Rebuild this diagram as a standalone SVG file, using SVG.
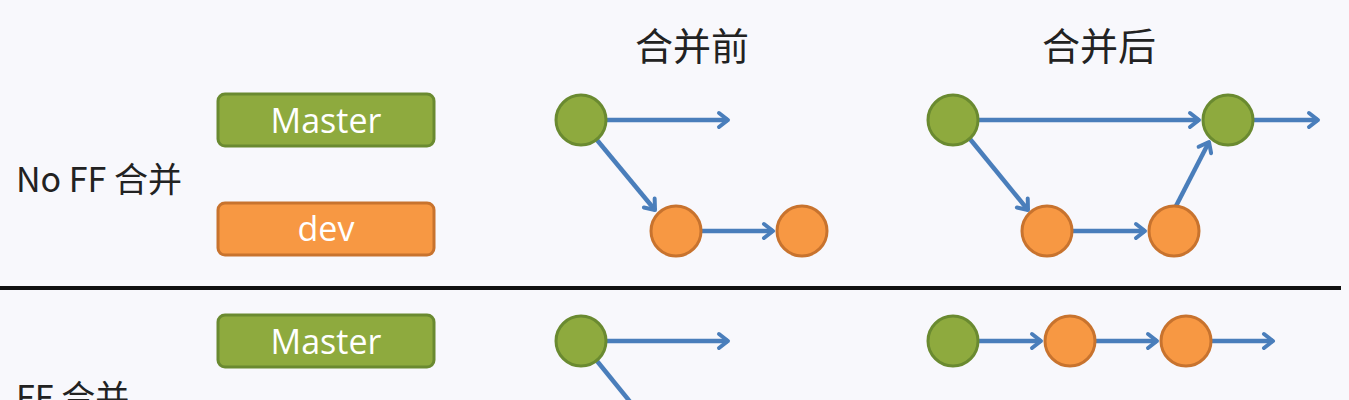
<svg xmlns="http://www.w3.org/2000/svg" width="1349" height="400" viewBox="0 0 1349 400">
<defs>
<marker id="ah" viewBox="0 0 14 16" refX="12" refY="8" markerWidth="14" markerHeight="16" markerUnits="userSpaceOnUse" orient="auto" overflow="visible">
<polyline points="3,1 12,8 3,15" fill="none" stroke="#4a7ebb" stroke-width="4" stroke-linecap="round" stroke-linejoin="round"/>
</marker>
</defs>
<style>
.bg{fill:#f8f8fc}
.g{fill:#8eaa3e;stroke:#6a8a30;stroke-width:3}
.o{fill:#f79843;stroke:#c8732e;stroke-width:3}
.lbl{font-family:"Open Sans","Liberation Sans",sans-serif;font-size:34px;fill:#ffffff;text-anchor:middle}
.cj{font-family:"Noto Sans CJK SC","Liberation Sans",sans-serif;fill:#222222}
.c line{stroke:#4a7ebb;stroke-width:4.5;marker-end:url(#ah)}
</style>
<rect class="bg" x="0" y="0" width="1349" height="400"/>
<g id="titles">
<text class="cj" x="692" y="60" font-size="38" text-anchor="middle">合并前</text>
<text class="cj" x="1099" y="60" font-size="38" text-anchor="middle">合并后</text>
<text class="cj" x="16" y="192" font-size="34">No FF 合并</text>
<text class="cj" x="16" y="410" font-size="34">FF 合并</text>
</g>
<line id="divider" x1="0" y1="288" x2="1341" y2="288" stroke="#111111" stroke-width="4"/>
<g id="master1"><rect class="g" x="218" y="94" width="216" height="52" rx="7"/><text class="lbl" x="326" y="133">Master</text></g>
<g id="dev1"><rect class="o" x="218" y="203" width="216" height="52" rx="7"/><text class="lbl" x="326" y="241">dev</text></g>
<g id="master2"><rect class="g" x="218" y="315" width="216" height="52" rx="7"/><text class="lbl" x="326" y="354">Master</text></g>
<g class="c" id="connectors">
<line x1="606" y1="120" x2="728" y2="120"/>
<line x1="597" y1="140" x2="655" y2="210"/>
<line x1="702" y1="231" x2="773" y2="231"/>
<line x1="979" y1="120" x2="1199" y2="120"/>
<line x1="1254" y1="120" x2="1318" y2="120"/>
<line x1="970" y1="139" x2="1028" y2="210"/>
<line x1="1073" y1="231" x2="1145" y2="231"/>
<line x1="1176" y1="206" x2="1209" y2="142"/>
<line x1="606" y1="341" x2="728" y2="341"/>
<line x1="597" y1="361" x2="640" y2="414" style="marker-end:none"/>
<line x1="979" y1="341" x2="1041" y2="341"/>
<line x1="1096" y1="341" x2="1157" y2="341"/>
<line x1="1212" y1="341" x2="1273" y2="341"/>
</g>
<g id="n1"><circle class="g" cx="581" cy="120" r="25"/></g>
<g id="n2"><circle class="o" cx="676" cy="231" r="25"/></g>
<g id="n3"><circle class="o" cx="802" cy="231" r="25"/></g>
<g id="n4"><circle class="g" cx="953" cy="120" r="25"/></g>
<g id="n5"><circle class="g" cx="1228" cy="120" r="25"/></g>
<g id="n6"><circle class="o" cx="1047" cy="231" r="25"/></g>
<g id="n7"><circle class="o" cx="1174" cy="231" r="25"/></g>
<g id="n8"><circle class="g" cx="581" cy="341" r="25"/></g>
<g id="n9"><circle class="g" cx="953" cy="341" r="25"/></g>
<g id="n10"><circle class="o" cx="1070" cy="341" r="25"/></g>
<g id="n11"><circle class="o" cx="1186" cy="341" r="25"/></g>
</svg>
